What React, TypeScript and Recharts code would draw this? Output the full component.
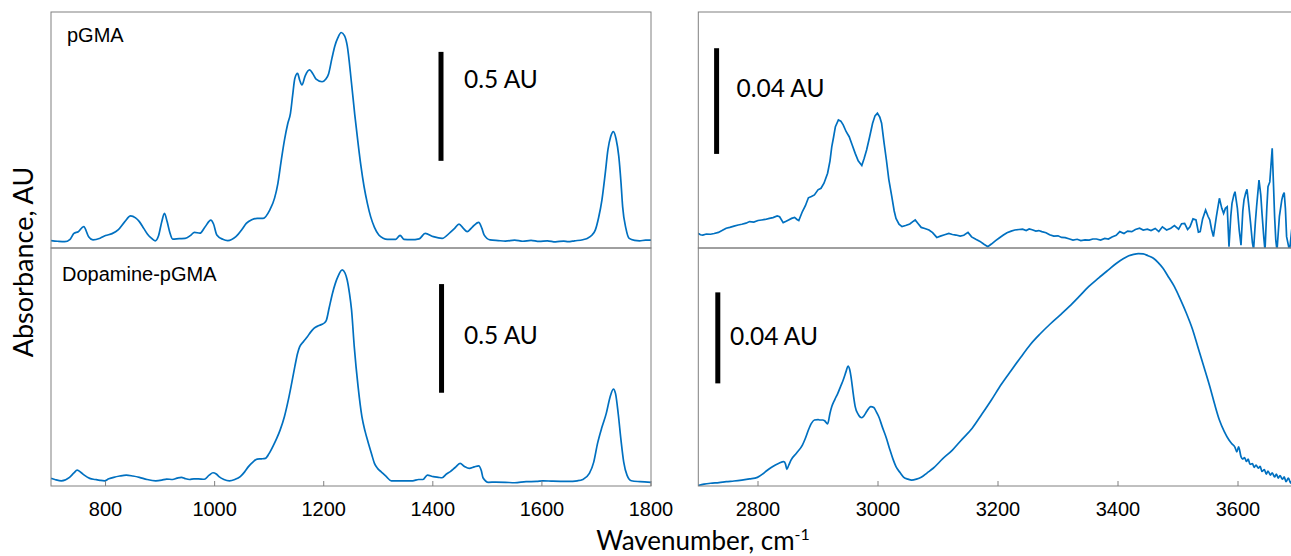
import { LineChart, Line, XAxis, YAxis, ReferenceLine } from "recharts"

type Pt = [number, number]

// x ranges and tick marks of the two halves
const leftRange: Pt = [700, 1800]
const rightRange: Pt = [2700, 3690]
const leftTicks = [800, 1000, 1200, 1400, 1600, 1800]
const rightTicks = [2800, 3000, 3200, 3400, 3600]

// absorbance (AU) vs wavenumber (cm-1)
const pgmaLow: Pt[] = [
  [700, 0.034], [712, 0.031], [725, 0.029], [735, 0.04], [742, 0.067], [750, 0.075], [760, 0.098], [769, 0.052],
  [777, 0.037], [790, 0.045], [800, 0.057], [812, 0.066], [823, 0.083], [835, 0.12], [846, 0.147], [855, 0.138],
  [862, 0.121], [870, 0.09], [877, 0.063], [884, 0.045], [891, 0.033], [897, 0.055], [903, 0.12], [908, 0.159],
  [913, 0.12], [918, 0.07], [923, 0.041], [935, 0.043], [946, 0.044], [956, 0.058], [963, 0.072], [973, 0.068],
  [982, 0.095], [993, 0.128], [998, 0.11], [1004, 0.06], [1015, 0.04], [1024, 0.034], [1039, 0.052], [1050, 0.085],
  [1058, 0.113], [1068, 0.13], [1078, 0.136], [1089, 0.136], [1101, 0.174], [1110, 0.23], [1116, 0.297], [1122, 0.4],
  [1128, 0.495], [1134, 0.57], [1139, 0.618], [1143, 0.7], [1147, 0.778], [1152, 0.801], [1156, 0.77], [1160, 0.748],
  [1166, 0.79], [1174, 0.817], [1180, 0.8], [1186, 0.775], [1197, 0.763], [1204, 0.775], [1209, 0.8], [1215, 0.87],
  [1220, 0.924], [1226, 0.965], [1232, 0.989], [1238, 0.975], [1243, 0.93], [1251, 0.755], [1257, 0.61], [1263, 0.48],
  [1268, 0.38], [1274, 0.281], [1280, 0.205], [1286, 0.144], [1293, 0.095], [1301, 0.06], [1309, 0.045], [1317, 0.04],
  [1332, 0.04], [1340, 0.058], [1347, 0.04], [1360, 0.038], [1375, 0.042], [1386, 0.067], [1401, 0.052], [1417, 0.044],
  [1432, 0.072], [1440, 0.09], [1448, 0.11], [1456, 0.09], [1463, 0.075], [1472, 0.095], [1484, 0.118], [1490, 0.09],
  [1494, 0.06], [1505, 0.037], [1520, 0.034], [1533, 0.032], [1550, 0.036], [1565, 0.031], [1580, 0.035], [1595, 0.03],
  [1610, 0.033], [1625, 0.028], [1640, 0.032], [1648, 0.029], [1660, 0.033], [1675, 0.038], [1683, 0.044], [1692, 0.06],
  [1698, 0.083], [1704, 0.14], [1710, 0.22], [1716, 0.34], [1721, 0.45], [1726, 0.51], [1731, 0.534], [1736, 0.5],
  [1741, 0.419], [1745, 0.3], [1748, 0.19], [1754, 0.09], [1760, 0.044], [1770, 0.035], [1779, 0.033], [1790, 0.036],
  [1800, 0.036],
]

const dopamineLow: Pt[] = [
  [700, 0.035], [707, 0.03], [719, 0.024], [734, 0.04], [742, 0.06], [748, 0.073], [755, 0.062], [761, 0.05],
  [771, 0.035], [781, 0.03], [790, 0.026], [798, 0.024], [806, 0.033], [815, 0.04], [826, 0.046], [838, 0.05],
  [850, 0.046], [862, 0.04], [876, 0.03], [892, 0.024], [903, 0.027], [912, 0.032], [923, 0.03], [931, 0.036],
  [939, 0.04], [946, 0.034], [954, 0.03], [962, 0.033], [970, 0.033], [981, 0.031], [990, 0.05], [997, 0.061],
  [1003, 0.055], [1008, 0.043], [1017, 0.03], [1027, 0.024], [1037, 0.03], [1047, 0.043], [1055, 0.065], [1062, 0.089],
  [1070, 0.11], [1078, 0.124], [1086, 0.125], [1093, 0.127], [1100, 0.15], [1108, 0.188], [1114, 0.22], [1120, 0.257],
  [1128, 0.32], [1135, 0.395], [1141, 0.47], [1147, 0.549], [1152, 0.61], [1156, 0.641], [1163, 0.665], [1170, 0.687],
  [1176, 0.708], [1182, 0.725], [1190, 0.737], [1197, 0.744], [1201, 0.75], [1205, 0.764], [1210, 0.82], [1216, 0.886],
  [1221, 0.93], [1226, 0.963], [1234, 0.994], [1239, 0.98], [1243, 0.948], [1247, 0.89], [1251, 0.81], [1256, 0.64],
  [1263, 0.457], [1270, 0.319], [1276, 0.25], [1282, 0.196], [1288, 0.145], [1293, 0.104], [1299, 0.08], [1305, 0.066],
  [1314, 0.045], [1324, 0.024], [1340, 0.024], [1355, 0.024], [1363, 0.024], [1374, 0.03], [1382, 0.03], [1390, 0.05],
  [1401, 0.043], [1410, 0.04], [1417, 0.038], [1425, 0.055], [1432, 0.066], [1441, 0.085], [1450, 0.104], [1458, 0.09],
  [1467, 0.081], [1476, 0.088], [1484, 0.093], [1489, 0.07], [1492, 0.038], [1502, 0.017], [1515, 0.018], [1533, 0.017],
  [1550, 0.015], [1571, 0.02], [1590, 0.021], [1602, 0.024], [1620, 0.022], [1648, 0.021], [1665, 0.024], [1675, 0.03],
  [1687, 0.058], [1695, 0.11], [1702, 0.196], [1710, 0.27], [1718, 0.334], [1725, 0.41], [1731, 0.446], [1735, 0.425],
  [1740, 0.33], [1745, 0.211], [1750, 0.11], [1756, 0.05], [1764, 0.024], [1780, 0.02], [1800, 0.017],
]

const pgmaHigh: Pt[] = [
  [2700, 0.0056], [2704, 0.005], [2708, 0.0049], [2714, 0.0053], [2721, 0.0052], [2727, 0.0055], [2734, 0.0059],
  [2740, 0.0066], [2747, 0.0075], [2753, 0.0078], [2760, 0.0083], [2767, 0.0087], [2773, 0.009], [2780, 0.0094],
  [2786, 0.01], [2793, 0.0098], [2800, 0.0104], [2806, 0.0106], [2812, 0.0108], [2819, 0.0112], [2825, 0.0115],
  [2832, 0.0121], [2836, 0.0118], [2842, 0.0096], [2846, 0.01], [2851, 0.0106], [2856, 0.0112], [2861, 0.0116],
  [2865, 0.0108], [2868, 0.0104], [2874, 0.0138], [2879, 0.016], [2884, 0.019], [2889, 0.0195], [2894, 0.0201],
  [2900, 0.022], [2905, 0.0226], [2910, 0.0245], [2916, 0.0283], [2920, 0.033], [2923, 0.0384], [2926, 0.042],
  [2929, 0.0459], [2934, 0.0485], [2938, 0.048], [2942, 0.0466], [2947, 0.044], [2952, 0.0421], [2957, 0.039],
  [2962, 0.0358], [2967, 0.033], [2973, 0.0312], [2977, 0.034], [2981, 0.0371], [2986, 0.042], [2991, 0.0472],
  [2995, 0.05], [2999, 0.051], [3003, 0.0495], [3006, 0.0472], [3010, 0.04], [3014, 0.0333], [3018, 0.026],
  [3023, 0.0194], [3027, 0.014], [3030, 0.0112], [3035, 0.009], [3040, 0.0081], [3046, 0.0085], [3053, 0.0091],
  [3058, 0.01], [3062, 0.0106], [3067, 0.0092], [3072, 0.0078], [3078, 0.0074], [3085, 0.0068], [3091, 0.0058],
  [3098, 0.004], [3104, 0.0045], [3111, 0.005], [3118, 0.0055], [3124, 0.0051], [3130, 0.0049], [3137, 0.0045],
  [3143, 0.0048], [3150, 0.0059], [3156, 0.0042], [3163, 0.0033], [3170, 0.0025], [3176, 0.0015], [3183, 0.0005],
  [3189, 0.0015], [3196, 0.0028], [3202, 0.0038], [3209, 0.0049], [3215, 0.0058], [3222, 0.0064], [3228, 0.0068],
  [3235, 0.007], [3241, 0.0071], [3247, 0.0066], [3252, 0.0072], [3257, 0.0069], [3263, 0.0064], [3268, 0.0066],
  [3273, 0.0062], [3280, 0.0058], [3286, 0.005], [3293, 0.0045], [3300, 0.0046], [3306, 0.004], [3312, 0.0039],
  [3318, 0.0035], [3325, 0.003], [3332, 0.0033], [3338, 0.0028], [3345, 0.0031], [3352, 0.003], [3358, 0.0034],
  [3364, 0.0034], [3371, 0.003], [3378, 0.0036], [3384, 0.0034], [3390, 0.0042], [3397, 0.0048], [3403, 0.0062],
  [3410, 0.0055], [3416, 0.0064], [3423, 0.0062], [3429, 0.007], [3436, 0.0075], [3442, 0.0068], [3449, 0.0071],
  [3455, 0.0066], [3462, 0.0074], [3468, 0.0062], [3474, 0.008], [3481, 0.0068], [3488, 0.0075], [3494, 0.0085],
  [3501, 0.0071], [3506, 0.0092], [3511, 0.0093], [3516, 0.007], [3520, 0.008], [3525, 0.011], [3530, 0.0106],
  [3534, 0.006], [3537, 0.0062], [3541, 0.011], [3546, 0.0144], [3550, 0.012], [3553, 0.0106], [3556, 0.007],
  [3559, 0.0043], [3564, 0.012], [3569, 0.0188], [3573, 0.015], [3576, 0.0131], [3579, 0.015], [3582, 0.0156],
  [3585, 0.0005], [3588, 0.012], [3590, 0.0169], [3593, 0.02], [3595, 0.0213], [3599, 0.015], [3602, 0.0068],
  [3605, 0.0011], [3608, 0.014], [3610, 0.0182], [3613, 0.021], [3615, 0.0222], [3618, 0.016], [3621, 0.0093],
  [3624, 0.002], [3626, -0.0005], [3629, 0.01], [3631, 0.0157], [3635, 0.0257], [3638, 0.02], [3640, 0.0131],
  [3643, 0.004], [3645, -0.001], [3648, 0.015], [3650, 0.0232], [3653, 0.025], [3657, 0.0377], [3659, 0.025],
  [3661, 0.0119], [3663, 0.003], [3665, -0.001], [3669, 0.012], [3673, 0.0182], [3675, 0.02], [3677, 0.021],
  [3679, 0.015], [3681, 0.0043], [3684, 0.001], [3686, -0.001], [3690, 0.008],
]

const dopamineHigh: Pt[] = [
  [2700, 0.0002], [2710, 0.0008], [2721, 0.0012], [2735, 0.0015], [2747, 0.0019], [2760, 0.0022], [2773, 0.0026],
  [2786, 0.0031], [2799, 0.0038], [2809, 0.0055], [2815, 0.0068], [2822, 0.0081], [2829, 0.0092], [2835, 0.01],
  [2843, 0.0107], [2846, 0.0095], [2848, 0.0073], [2851, 0.009], [2855, 0.0114], [2864, 0.0144], [2874, 0.018],
  [2879, 0.021], [2884, 0.0246], [2889, 0.0275], [2894, 0.029], [2900, 0.0292], [2903, 0.029], [2908, 0.029],
  [2911, 0.0287], [2916, 0.0273], [2920, 0.032], [2923, 0.0349], [2928, 0.038], [2933, 0.0407], [2938, 0.044],
  [2942, 0.0466], [2947, 0.0505], [2950, 0.0527], [2953, 0.051], [2955, 0.0481], [2959, 0.04], [2962, 0.0349],
  [2967, 0.0315], [2973, 0.03], [2977, 0.031], [2981, 0.0327], [2988, 0.0349], [2993, 0.0345], [2997, 0.0327],
  [3002, 0.03], [3007, 0.0261], [3014, 0.021], [3020, 0.0158], [3025, 0.0118], [3030, 0.0085], [3037, 0.0058],
  [3043, 0.0038], [3050, 0.003], [3056, 0.0026], [3064, 0.003], [3072, 0.0038], [3082, 0.0058], [3092, 0.0078],
  [3108, 0.012], [3124, 0.0158], [3140, 0.0205], [3157, 0.0254], [3173, 0.0315], [3189, 0.0378], [3205, 0.0445],
  [3222, 0.0508], [3238, 0.0566], [3254, 0.0622], [3270, 0.0668], [3287, 0.0712], [3303, 0.075], [3319, 0.0789],
  [3335, 0.0832], [3351, 0.0876], [3368, 0.0915], [3384, 0.095], [3397, 0.0978], [3410, 0.1001], [3418, 0.1012],
  [3426, 0.1018], [3434, 0.1021], [3442, 0.102], [3450, 0.1012], [3459, 0.1001], [3467, 0.0982], [3475, 0.0957],
  [3485, 0.0915], [3494, 0.0876], [3504, 0.082], [3514, 0.0759], [3524, 0.069], [3533, 0.0612], [3543, 0.0525],
  [3553, 0.0437], [3561, 0.036], [3569, 0.029], [3577, 0.024], [3585, 0.0202], [3590, 0.0185], [3595, 0.017],
  [3598, 0.015], [3601, 0.0172], [3605, 0.0129], [3608, 0.0118], [3611, 0.0125], [3614, 0.0108], [3617, 0.0118],
  [3620, 0.0095], [3624, 0.0098], [3627, 0.0082], [3630, 0.0092], [3634, 0.0078], [3637, 0.0086], [3640, 0.0064],
  [3644, 0.0072], [3647, 0.0052], [3650, 0.0066], [3654, 0.0048], [3657, 0.0058], [3661, 0.004], [3664, 0.0052],
  [3667, 0.0035], [3670, 0.0046], [3674, 0.003], [3677, 0.004], [3680, 0.0019], [3684, 0.0035], [3688, 0.0012],
  [3690, 0.0025],
]

const BLUE = "#0070c0"
const GREY = "#808080"
const PAD = 4
const AXIS_H = 40

interface PanelProps {
  x: number
  y: number
  w: number
  h: number
  points: Pt[]
  xDomain: Pt
  yDomain: Pt
  ticks?: number[]
  bar: { at: number; from: number; to: number }
  curve: "monotone" | "linear"
}

const Panel = ({ x, y, w, h, points, xDomain, yDomain, ticks, bar, curve }: PanelProps) => {
  const data = points.map(([wn, a]) => ({ wn, a }))
  const withAxis = Boolean(ticks)
  // room on the right so the last tick label is not cut off
  const right = withAxis ? 30 : PAD
  return (
    <div style={{ position: "absolute", left: x - PAD, top: y - PAD }}>
      <LineChart
        width={w + PAD + right}
        height={h + PAD + (withAxis ? AXIS_H : PAD)}
        data={data}
        margin={{ top: PAD, right, bottom: withAxis ? 0 : PAD, left: PAD }}
      >
        <XAxis
          dataKey="wn"
          type="number"
          domain={xDomain}
          allowDataOverflow
          ticks={ticks}
          hide={!withAxis}
          height={AXIS_H}
          interval={0}
          axisLine={false}
          tickSize={-5}
          tickMargin={21}
          tickLine={{ stroke: GREY }}
          tick={{ fill: "#000", fontSize: 20, fontFamily: "'Liberation Sans', Arial, sans-serif" }}
        />
        {withAxis && (
          <XAxis
            xAxisId="top"
            orientation="top"
            dataKey="wn"
            type="number"
            domain={xDomain}
            allowDataOverflow
            ticks={ticks}
            height={0}
            interval={0}
            axisLine={false}
            tick={false}
            tickSize={-5}
            tickLine={{ stroke: GREY }}
          />
        )}
        <YAxis hide type="number" domain={yDomain} allowDataOverflow />
        <ReferenceLine
          segment={[{ x: bar.at, y: bar.from }, { x: bar.at, y: bar.to }]}
          stroke="#000"
          strokeWidth={5}
        />
        <Line
          type={curve}
          dataKey="a"
          stroke={BLUE}
          strokeWidth={1.7}
          dot={false}
          activeDot={false}
          isAnimationActive={false}
        />
      </LineChart>
    </div>
  )
}

const calibri = "Lato, 'Open Sans', sans-serif"
const arial = "'Liberation Sans', Arial, sans-serif"

export default function App() {
  return (
    <div
      style={{
        position: "absolute",
        left: 0,
        top: 0,
        width: 1291,
        height: 556,
        overflow: "hidden",
        background: "#fff",
      }}
    >
      <Panel x={51} y={12} w={600} h={236} points={pgmaLow} xDomain={leftRange} yDomain={[0, 1.083]}
        bar={{ at: 1415, from: 0.4, to: 0.9 }} curve="monotone" />
      <Panel x={51} y={248} w={600} h={238} points={dopamineLow} xDomain={leftRange} yDomain={[0, 1.095]}
        ticks={leftTicks} bar={{ at: 1416, from: 0.429, to: 0.929 }} curve="monotone" />
      <Panel x={698.3} y={12} w={594} h={236} points={pgmaHigh} xDomain={rightRange} yDomain={[0, 0.0893]}
        bar={{ at: 2731, from: 0.0356, to: 0.0756 }} curve="linear" />
      <Panel x={698.3} y={248} w={594} h={238} points={dopamineHigh} xDomain={rightRange} yDomain={[0, 0.1046]}
        ticks={rightTicks} bar={{ at: 2733, from: 0.0451, to: 0.0851 }} curve="monotone" />

      <svg width={1291} height={556} style={{ position: "absolute", left: 0, top: 0, pointerEvents: "none" }}>
        <g fill="none" stroke={GREY} strokeWidth={1}>
          <rect x={51} y={12} width={600} height={236} />
          <rect x={51} y={248} width={600} height={238} />
          <rect x={698.3} y={12} width={600} height={236} />
          <rect x={698.3} y={248} width={600} height={238} />
        </g>
        <text x={67} y={42.3} fontFamily={arial} fontSize={20} fill="#000">pGMA</text>
        <text x={62} y={280.7} fontFamily={arial} fontSize={20} fill="#000">Dopamine-pGMA</text>
        <g fontFamily={calibri} fontSize={24.5} fill="#000">
          <text x={464} y={87.5}>0.5 AU</text>
          <text x={464} y={344}>0.5 AU</text>
          <text x={736.5} y={96.7}>0.04 AU</text>
          <text x={730} y={345}>0.04 AU</text>
        </g>
        <text transform="translate(33,262) rotate(-90)" textAnchor="middle" fontFamily={calibri} fontSize={27} fill="#000">
          Absorbance, AU
        </text>
        <text x={703} y={550} textAnchor="middle" fontFamily={calibri} fontSize={26} fill="#000">
          Wavenumber, cm<tspan dy={-10} fontSize={16}>-1</tspan>
        </text>
      </svg>
    </div>
  )
}
